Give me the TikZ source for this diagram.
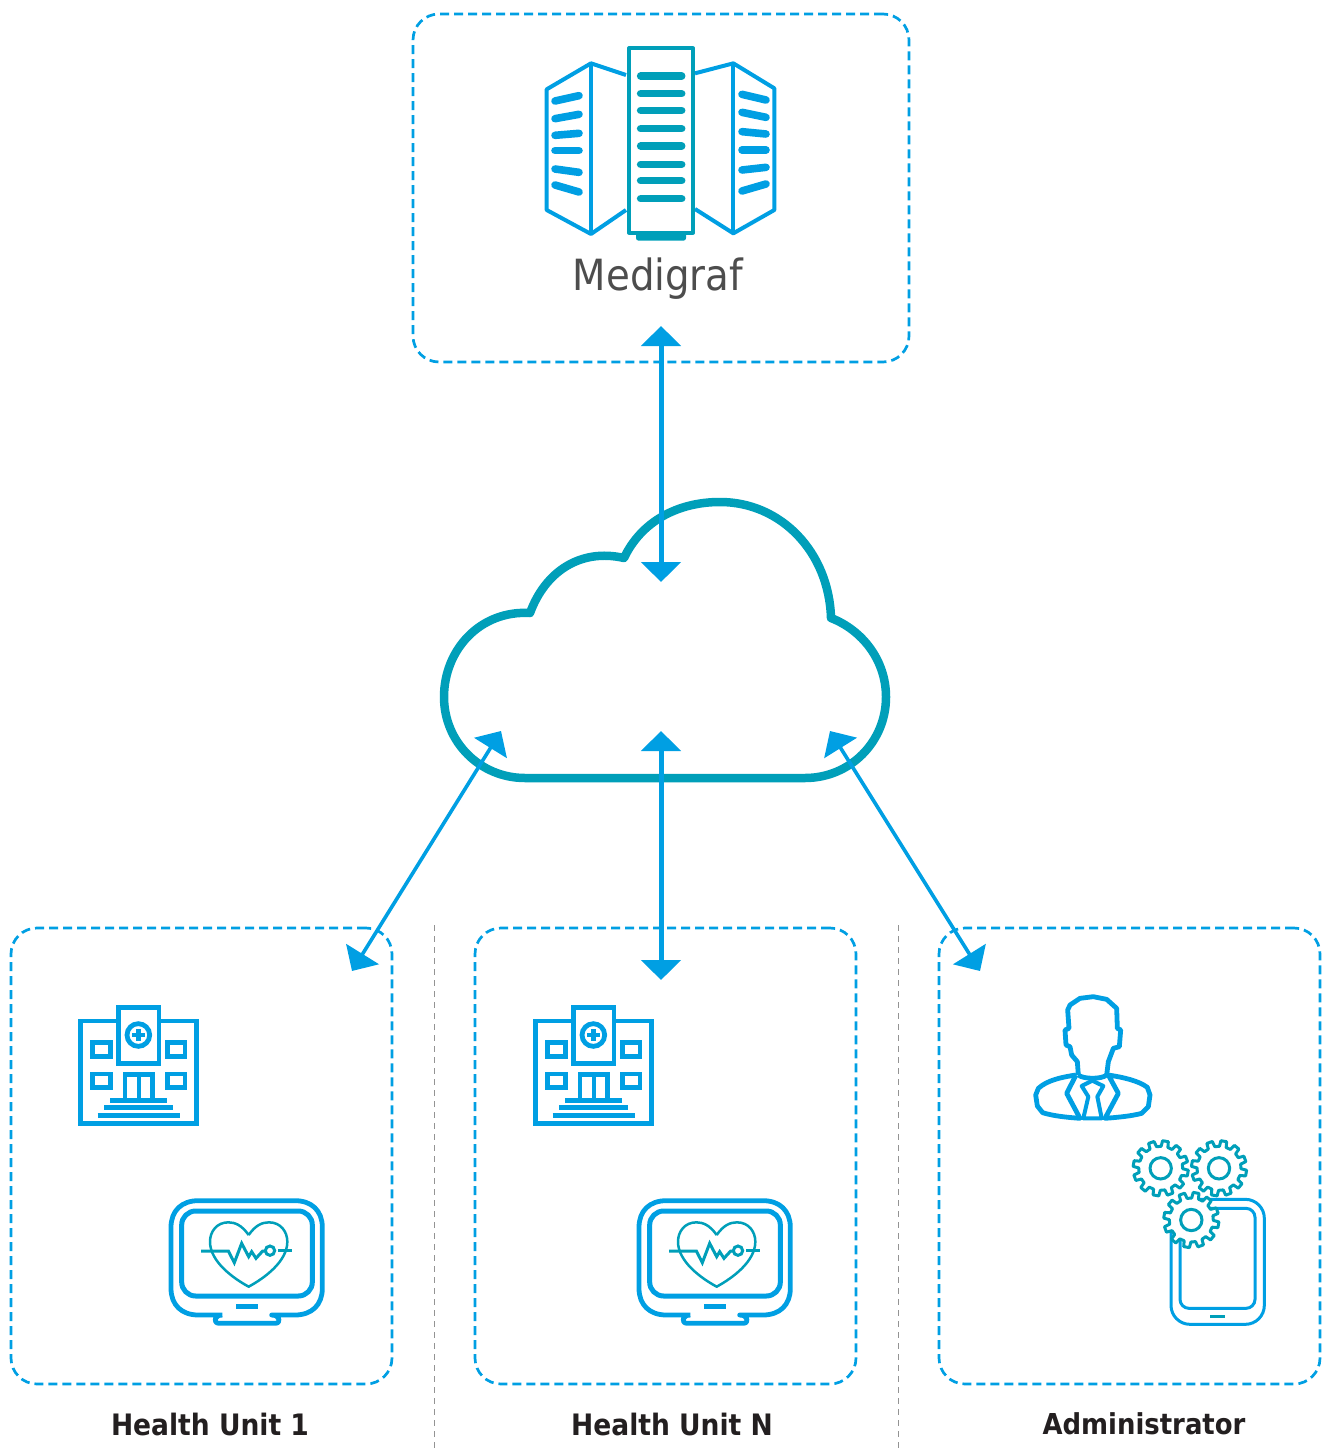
\documentclass[tikz,border=0pt]{standalone}
\usepackage{fontspec}
\setmainfont{DejaVu Sans}
\newfontfamily\condfont{DejaVu Sans Condensed}
\usetikzlibrary{arrows.meta}
\definecolor{mblue}{HTML}{009FE3}
\definecolor{mteal}{HTML}{009FB9}
\definecolor{mtext}{HTML}{4D4D4D}
\definecolor{mdark}{HTML}{231F20}
\tikzset{
  zoomed/.style={x=0.33333pt,y=-0.33333pt},
  groupbox/.style={draw=mblue,line width=2.7pt,rounded corners=26pt,inner sep=0pt,dash pattern=on 9pt off 5pt},
  sepline/.style={draw=gray!85,line width=1.2pt,dash pattern=on 6pt off 5pt},
  cloudline/.style={draw=mteal,line width=8.5pt,line join=round},
  bigarrow/.style={draw=mblue,line width=5pt,{Triangle[width=39pt,length=20pt]}-{Triangle[width=39pt,length=20pt]}},
  slantarrow/.style={draw=mblue,line width=3.6pt,{Triangle[width=38pt,length=20pt]}-{Triangle[width=38pt,length=20pt]}},
  titletext/.style={font=\condfont\fontsize{43}{50}\selectfont,text=mtext,inner sep=0pt},
  unittext/.style={font=\condfont\bfseries\fontsize{29.5}{34}\selectfont,text=mdark,inner sep=0pt},
  blueline/.style={draw=mblue,line width=4.8pt},
  tealbar/.style={draw=mteal,line width=7.6pt,line cap=round},
  bluebar/.style={draw=mblue,line width=7.6pt,line cap=round},
  hospital/.pic={
    \begin{scope}[zoomed]
      \draw[blueline] (175,93) -- (62,93) -- (62,400) -- (410,400) -- (410,93) -- (297,93);
      \draw[blueline] (175,53) rectangle (297,221);
      \draw[blueline] (235,135) circle (34);
      \fill[mblue] (228,116) rectangle (242,154);
      \fill[mblue] (216,128) rectangle (254,142);
      \draw[blueline] (98,158) rectangle (152,199);
      \draw[blueline] (322,158) rectangle (375,199);
      \draw[blueline] (98,252) rectangle (152,292);
      \draw[blueline] (322,252) rectangle (375,292);
      \draw[blueline] (195,325) -- (195,254) -- (278,254) -- (278,325);
      \draw[blueline] (237,254) -- (237,325);
      \draw[draw=mblue,line width=5pt] (150,330) -- (322,330);
      \draw[draw=mblue,line width=5pt] (133,353) -- (340,353);
      \draw[draw=mblue,line width=5pt] (113,377) -- (360,377);
    \end{scope}},
  monitor/.pic={
    \begin{scope}[zoomed]
      \draw[blueline,line join=round] (487,975) -- (415,975) .. controls (365,975) and (333,945) .. (333,895)
        -- (333,712) .. controls (333,662) and (365,632) .. (415,632) -- (705,632)
        .. controls (755,632) and (787,662) .. (787,712) -- (787,895)
        .. controls (787,945) and (755,975) .. (705,975) -- (635,975)
        .. controls (660,975) and (665,1000) .. (645,1000) -- (478,1000) .. controls (458,1000) and (462,975) .. (487,975);
      \draw[draw=mblue,line width=5pt,rounded corners=14pt] (365,663) rectangle (757,918);
      \fill[mblue] (527,942) rectangle (593,957);
      \draw[draw=mteal,line width=2.5pt,line join=round] (566,735) .. controls (545,705) and (525,697) .. (505,697)
        .. controls (470,697) and (450,725) .. (450,755) .. controls (450,815) and (520,865) .. (566,890)
        .. controls (612,865) and (682,815) .. (682,755) .. controls (682,725) and (662,697) .. (627,697)
        .. controls (607,697) and (587,705) .. (566,735);
      \draw[draw=mteal,line width=3pt,line join=miter] (423,783) -- (505,783) -- (523,818) -- (545,760) -- (566,800) -- (575,785) -- (588,805) -- (608,783) -- (617,783);
      \draw[draw=mteal,line width=3pt] (630,782) circle (14);
      \draw[draw=mteal,line width=3pt] (655,780) -- (697,780);
    \end{scope}},
  gearicon/.pic={
    \begin{scope}[zoomed]
      \draw[draw=mteal,fill=white,line width=3pt,line join=round] (1:66)
        \foreach \a in {10,40,...,340} { -- (\a-9:66) -- (\a-6:83) -- (\a+6:83) -- (\a+9:66) } -- cycle;
      \draw[draw=mteal,line width=3pt] (0,0) circle (32);
    \end{scope}}
}
\begin{document}
\begin{tikzpicture}[x=1pt,y=-1pt]
\useasboundingbox (0,0) rectangle (1328,1450);
% separators
\coordinate (sepAtop) at (434.5,925); \coordinate (sepAbot) at (434.5,1450);
\coordinate (sepBtop) at (898.5,925); \coordinate (sepBbot) at (898.5,1450);
\draw[sepline] (sepAtop) -- (sepAbot);
\draw[sepline] (sepBtop) -- (sepBbot);
% group boxes
\node[groupbox,minimum width=496pt,minimum height=348pt] (topbox) at (661,188) {};
\node[groupbox,minimum width=381pt,minimum height=456pt] (unitA) at (201.5,1156) {};
\node[groupbox,minimum width=381pt,minimum height=456pt] (unitN) at (665.5,1156) {};
\node[groupbox,minimum width=381pt,minimum height=456pt] (admin) at (1129.5,1156) {};
% cloud
\draw[cloudline] (525,778) -- (805,778) .. controls (850,778) and (886,742) .. (886,697)
  .. controls (886,660) and (862,630) .. (831,618) .. controls (829,552) and (781,502) .. (720,502)
  .. controls (677,502) and (641,522) .. (624,558) .. controls (580,548) and (545,572) .. (530,613)
  .. controls (480,610) and (444,650) .. (444,697) .. controls (444,742) and (480,778) .. (525,778) -- cycle;
% server icon
\begin{scope}[shift={(530,30)},zoomed]
  \draw[blueline,line width=4pt,line join=round] (288,135) -- (183,100) -- (50,178) -- (50,540) -- (183,612) -- (288,540);
  \draw[blueline,line width=4pt] (183,100) -- (183,612);
  \draw[blueline,line width=4pt,line join=round] (495,130) -- (610,100) -- (733,175) -- (733,540) -- (610,610) -- (495,537);
  \draw[blueline,line width=4pt] (610,100) -- (610,610);
  \draw[bluebar] (75,213) -- (147,197);
  \draw[bluebar] (75,266) -- (147,253);
  \draw[bluebar] (75,316) -- (147,310);
  \draw[bluebar] (75,362) -- (147,362);
  \draw[bluebar] (75,417) -- (147,427);
  \draw[bluebar] (75,465) -- (147,486);
  \draw[bluebar] (636,193) -- (708,210);
  \draw[bluebar] (636,247) -- (708,262);
  \draw[bluebar] (636,305) -- (708,312);
  \draw[bluebar] (636,360) -- (708,360);
  \draw[bluebar] (636,420) -- (708,412);
  \draw[bluebar] (636,483) -- (708,462);
  \draw[draw=mteal,line width=4pt,line join=round] (297,55) rectangle (489,608);
  \fill[mteal,rounded corners=2.5pt] (318,604) -- (468,604) -- (468,632) -- (318,632) -- cycle;
  \foreach \yy in {138,191,241,296,348,403,452,506} { \draw[tealbar] (332,\yy) -- (455,\yy); }
\end{scope}
% title
\node[titletext] (medigraf) at (658,279) {Medigraf};
% unit icons
\pic at (60,990) {hospital};
\pic at (515,990) {hospital};
\pic at (60,990) {monitor};
\pic at (528,990) {monitor};
% administrator: person
\begin{scope}[shift={(1020,980)},zoomed]
  \draw[blueline,line join=round] (175,285) -- (172,245) -- (155,225) -- (150,200) -- (138,195) -- (135,150) -- (147,145)
    -- (143,90) -- (150,75) -- (180,55) -- (220,50) -- (260,58) -- (290,85) -- (292,145) -- (302,150) -- (298,200)
    -- (280,205) -- (265,245) -- (260,285) .. controls (245,298) and (190,298) .. (175,285);
  \draw[blueline,line join=round] (168,285) .. controls (120,292) and (80,302) .. (55,325) -- (47,345) -- (52,378) -- (68,398)
    .. controls (100,408) and (140,412) .. (180,415) -- (140,340) -- (168,285);
  \draw[blueline,line join=round] (265,285) .. controls (310,292) and (355,302) .. (382,322) -- (390,345) -- (385,380) -- (365,400)
    .. controls (335,408) and (295,412) .. (255,415) -- (295,340) -- (265,285);
  \draw[blueline,line width=4pt,line join=round] (185,318) -- (217,302) -- (250,318) -- (232,350) -- (245,415) -- (190,415) -- (205,350) -- cycle;
  % tablet
  \draw[draw=mblue,line width=3pt,rounded corners=19pt] (453,658) rectangle (733,1033);
  \draw[draw=mblue,line width=3pt,rounded corners=9pt] (480,685) rectangle (705,985);
  \fill[mteal] (570,1005) rectangle (615,1015);
\end{scope}
\pic at (1160.7,1168.3) {gearicon};
\pic at (1219,1168.3) {gearicon};
\pic at (1191.3,1220) {gearicon};
% labels
\node[unittext] (labelA) at (210,1424) {Health Unit 1};
\node[unittext] (labelN) at (672,1424) {Health Unit N};
\node[unittext,font=\condfont\bfseries\fontsize{28.8}{34}\selectfont] (labelAdmin) at (1144,1424) {Administrator};
% connectors
\coordinate (medTip) at (661,326);
\coordinate (cloudTop) at (661,582);
\coordinate (cloudMid) at (661,731);
\coordinate (unitNTip) at (661,980);
\coordinate (cloudLeft) at (501,731);
\coordinate (unitATip) at (352,971);
\coordinate (cloudRight) at (830,731);
\coordinate (adminTip) at (980,971);
\draw[bigarrow] (medTip) -- (cloudTop);
\draw[bigarrow] (cloudMid) -- (unitNTip);
\draw[slantarrow] (cloudLeft) -- (unitATip);
\draw[slantarrow] (cloudRight) -- (adminTip);
\end{tikzpicture}
\end{document}
